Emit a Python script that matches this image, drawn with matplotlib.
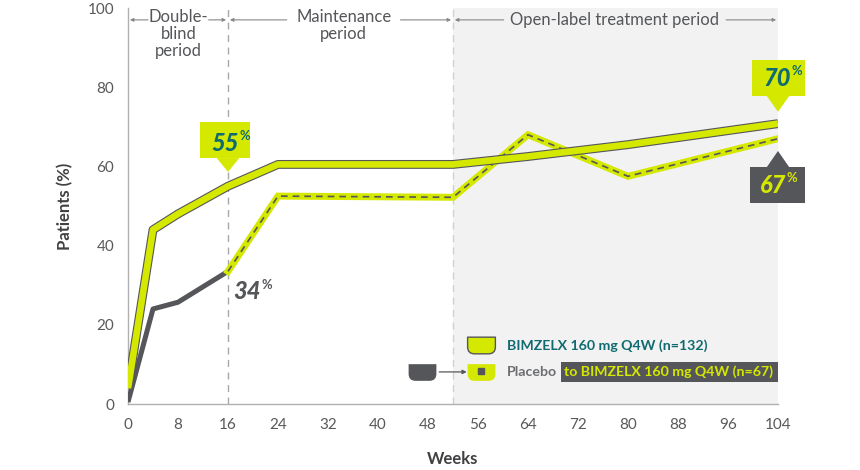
import matplotlib.pyplot as plt
import matplotlib.patheffects as pe
from matplotlib.path import Path
from matplotlib.patches import Polygon, Rectangle

plt.rcParams['font.family'] = ['Lato', 'DejaVu Sans']

# data
weeks_bkz = [0, 4, 8, 16, 24, 52, 64, 80, 104]
bkz = [4, 44, 48, 55, 60.5, 60.5, 62.5, 65.5, 70.8]
weeks_pbo = [0, 4, 8, 16]
pbo = [0.5, 24, 25.7, 33.5]
weeks_switch = [16, 24, 52, 64, 80, 104]
switch = [33.5, 52.5, 52.2, 68, 57.5, 67]
x_ticks = list(range(0, 105, 8))
y_ticks = [0, 20, 40, 60, 80, 100]
periods = [("Double-\nblind\nperiod", 0, 16, 3.6, 12.5),
           ("Maintenance\nperiod", 16, 52, 25.8, 43.2),
           ("Open-label treatment period", 52, 104, 60.5, 95.3)]

YEL = '#d5e800'
DARK = '#55565a'
TEAL = '#0f6b70'
GRID = '#a8a8a8'

fig = plt.figure(figsize=(8.6, 4.7), dpi=100)
ax = fig.add_axes([128 / 860, 66 / 470, 650 / 860, 396 / 470])
ax.set_xlim(0, 104)
ax.set_ylim(0, 100)

ax.axvspan(52, 104, color='#f2f2f2', zorder=0, lw=0)
ax.axvline(16, color=GRID, ls=(0, (5, 4)), lw=1, zorder=1)
ax.axvline(52, color='#d0d0d0', ls=(0, (5, 4)), lw=1, zorder=1)

# lines
ax.plot(weeks_pbo, pbo, color=DARK, lw=3.6, solid_capstyle='butt', zorder=3)
ax.plot(weeks_switch, switch, color=YEL, lw=5, solid_joinstyle='miter', zorder=3)
ax.plot(weeks_switch, switch, color=DARK, lw=1.2, ls=(0, (4, 3)), zorder=4)
ax.plot(weeks_bkz, bkz, color=YEL, lw=4.8, solid_capstyle='butt', zorder=5,
        path_effects=[pe.Stroke(linewidth=6.4, foreground=DARK), pe.Normal()])

# period headers
for label, x0, x1, tl, tr in periods:
    xc = (tl + tr) / 2
    multi = '\n' in label
    ax.text(xc, 99.8 if multi else 97, label, ha='center', va='top' if multi else 'center',
            fontsize=12, color=DARK, linespacing=1.1)
    ax.annotate('', xy=(x0 + 0.3, 97), xytext=(tl - 0.4, 97),
                arrowprops=dict(arrowstyle='-|>', color='#888888', lw=0.8,
                                mutation_scale=5, shrinkA=0, shrinkB=0))
    ax.annotate('', xy=(x1 - 0.3, 97), xytext=(tr + 0.4, 97),
                arrowprops=dict(arrowstyle='-|>', color='#888888', lw=0.8,
                                mutation_scale=5, shrinkA=0, shrinkB=0))


def callout(x0, x1, y0, y1, tip, color, up=False):
    ax.add_patch(Rectangle((x0, y0), x1 - x0, y1 - y0, color=color, zorder=6,
                           clip_on=False, lw=0))
    base = y1 if up else y0
    ax.add_patch(Polygon([(tip[0] - 1.8, base), (tip[0] + 1.8, base), tip],
                         closed=True, color=color, zorder=6, clip_on=False, lw=0))


def pct(x, y, num, color, size=17):
    ax.text(x, y, num, ha='right', va='center', fontsize=size, color=color,
            fontweight='black', style='italic', zorder=7, clip_on=False)
    ax.text(x + 0.1, y + 1.8, '%', ha='left', va='center', fontsize=size * 0.55,
            color=color, fontweight='bold', zorder=7, clip_on=False)


callout(11.5, 19.5, 62.1, 71.2, (16, 58.6), YEL)
pct(17.7, 65.9, '55', TEAL)
callout(99.8, 108.3, 77.8, 86.9, (104, 73.8), YEL)
pct(106.0, 82.3, '70', TEAL)
callout(99.5, 108.3, 50.8, 59.8, (104, 63.9), DARK, up=True)
pct(105.3, 55.3, '67', YEL)
pct(21.3, 28.3, '34', DARK)

# legend
cup = Path([(-1, 0.6), (1, 0.6), (1, -0.1), (1, -0.6), (0.5, -0.6),
            (-0.5, -0.6), (-1, -0.6), (-1, -0.1), (-1, 0.6)],
           [Path.MOVETO, Path.LINETO, Path.LINETO, Path.CURVE3, Path.CURVE3,
            Path.LINETO, Path.CURVE3, Path.CURVE3, Path.CLOSEPOLY])
ax.plot([56.5], [14.8], marker=cup, ms=20, color=YEL, mec=DARK, mew=1, zorder=6)
ax.text(60.6, 14.8, 'BIMZELX 160 mg Q4W (n=132)', fontsize=10.2, color=TEAL,
        fontweight='bold', va='center', ha='left')
ax.plot([47.1], [8.1], marker=cup, ms=20, color=DARK, mew=0, zorder=6)
ax.annotate('', xy=(54.2, 8.1), xytext=(49.8, 8.1),
            arrowprops=dict(arrowstyle='-|>', color=DARK, lw=0.9,
                            mutation_scale=6, shrinkA=0, shrinkB=0))
ax.plot([56.5], [8.1], marker=cup, ms=20, color=YEL, mew=0, zorder=6)
ax.plot([56.5], [8.3], marker='s', ms=5, color=DARK, zorder=7)
ax.text(60.6, 8.1, 'Placebo', fontsize=10.2, color='#6d6e71',
        fontweight='bold', va='center', ha='left')
ax.add_patch(Rectangle((69.3, 5.5), 34.7, 5.2, color=DARK, zorder=5, lw=0))
ax.text(69.8, 8.1, 'to BIMZELX 160 mg Q4W (n=67)', fontsize=10.2, color=YEL,
        fontweight='bold', va='center', ha='left', zorder=6)

# axes
for s in ['top', 'right']:
    ax.spines[s].set_visible(False)
for s in ['left', 'bottom']:
    ax.spines[s].set_color('#b0b0b0')
    ax.spines[s].set_linewidth(1)
ax.set_xticks(x_ticks)
ax.set_yticks(y_ticks)
ax.tick_params(length=0, labelsize=11, colors='#58595b', pad=10)
ax.set_xlabel('Weeks', fontsize=12, color='#414042', fontweight='bold', labelpad=14)
ax.set_ylabel('Patients (%)', fontsize=12, color='#414042', fontweight='bold', labelpad=10)

fig.savefig('out.png', dpi=100)
